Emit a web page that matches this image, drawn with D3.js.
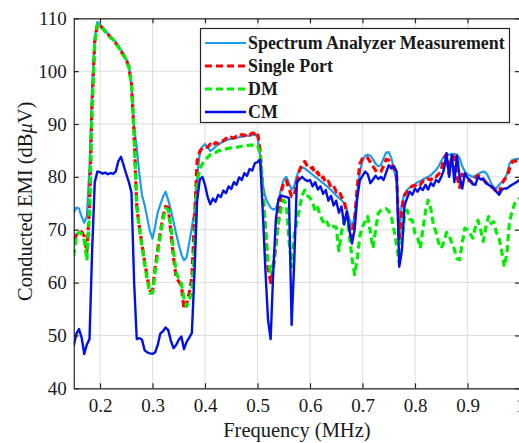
<!DOCTYPE html>
<html>
<head>
<meta charset="utf-8">
<script src="https://cdn.jsdelivr.net/npm/d3@7"></script>
<style>
  html, body { margin: 0; padding: 0; background: #fff; }
  svg { display: block; }
  svg text { font-family: "Liberation Serif", "Times New Roman", serif !important; fill: #1a1a1a; }
</style>
</head>
<body>
<svg id="chart" width="519" height="443"></svg>
<script>
// Frequency grid (MHz)
const freqMHz = [
  0.150,0.155,0.160,0.165,0.170,0.175,0.180,0.185,0.190,0.195,
  0.200,0.205,0.210,0.215,0.220,0.225,0.230,0.235,0.240,0.245,
  0.250,0.255,0.260,0.265,0.270,0.275,0.280,0.285,0.290,0.295,
  0.300,0.305,0.310,0.315,0.320,0.325,0.330,0.335,0.340,0.345,
  0.350,0.355,0.360,0.365,0.370,0.375,0.380,0.385,0.390,0.395,
  0.400,0.405,0.410,0.415,0.420,0.425,0.430,0.435,0.440,0.445,
  0.450,0.455,0.460,0.465,0.470,0.475,0.480,0.485,0.490,0.495,
  0.500,0.505,0.510,0.515,0.520,0.525,0.530,0.535,0.540,0.545,
  0.550,0.555,0.560,0.565,0.570,0.575,0.580,0.585,0.590,0.595,
  0.600,0.605,0.610,0.615,0.620,0.625,0.630,0.635,0.640,0.645,
  0.650,0.655,0.660,0.665,0.670,0.675,0.680,0.685,0.690,0.695,
  0.700,0.705,0.710,0.715,0.720,0.725,0.730,0.735,0.740,0.745,
  0.750,0.755,0.760,0.765,0.770,0.775,0.780,0.785,0.790,0.795,
  0.800,0.805,0.810,0.815,0.820,0.825,0.830,0.835,0.840,0.845,
  0.850,0.855,0.860,0.865,0.870,0.875,0.880,0.885,0.890,0.895,
  0.900,0.905,0.910,0.915,0.920,0.925,0.930,0.935,0.940,0.945,
  0.950,0.955,0.960,0.965,0.970,0.975,0.980,0.985,0.990,0.995,
  1.000
];

// Conducted EMI levels (dBuV) per series
const analyzer = [
  73.2, 74.2, 74.0, 72.5, 71.3, 72.5, 82.0, 97.0, 106.5, 109.3,
  108.8, 108.3, 107.7, 107.1, 106.6, 106.1, 105.5, 104.8, 104.0, 103.2,
  102.3, 101.2, 97.0, 89.5, 85.5, 80.5, 76.5, 74.7, 72.2, 69.8,
  68.3, 70.6, 73.3, 74.8, 76.2, 77.2, 75.6, 73.8, 71.5, 69.3,
  67.2, 65.3, 64.2, 64.8, 67.5, 70.5, 73.5, 80.0, 84.5, 85.7,
  86.2, 85.6, 84.9, 85.2, 85.7, 86.1, 86.4, 86.7, 86.9, 87.1,
  87.2, 87.3, 87.4, 87.5, 87.6, 87.7, 87.8, 87.8, 87.9, 88.0,
  87.6, 84.0, 78.5, 76.2, 75.0, 74.2, 73.8, 74.0, 75.5, 77.8,
  79.5, 80.0, 78.8, 77.6, 78.3, 80.2, 81.3, 81.8, 81.6, 81.2,
  80.8, 80.4, 80.0, 79.6, 79.2, 78.8, 78.4, 78.0, 77.5, 77.0,
  76.5, 76.0, 75.6, 75.0, 73.8, 72.0, 70.5, 72.5, 77.0, 81.0,
  83.0, 84.0, 84.2, 84.0, 83.3, 82.5, 82.0, 82.2, 83.5, 84.6,
  84.7, 83.5, 81.5, 79.0, 69.5, 75.0, 76.8, 77.5, 78.0, 78.3,
  78.6, 79.0, 79.2, 79.5, 79.8, 80.0, 80.3, 80.8, 81.3, 82.0,
  83.0, 83.8, 84.1, 84.2, 84.3, 84.3, 84.2, 83.5, 82.0, 81.0,
  80.5, 80.2, 80.0, 80.2, 80.5, 80.8, 81.0, 80.8, 80.0, 78.8,
  78.0, 77.8, 78.5, 79.0, 79.5, 80.5, 82.5, 83.2, 83.3, 83.4,
  83.5
];

const singlePort = [
  68.0, 69.0, 69.4, 69.6, 68.8, 65.8, 74.0, 94.0, 105.5, 108.8,
  108.6, 108.1, 107.5, 107.0, 106.4, 105.9, 105.3, 104.6, 103.8, 103.0,
  102.1, 100.8, 97.5, 88.0, 74.5, 70.5, 67.2, 64.0, 61.0, 58.5,
  58.3, 62.8, 66.3, 69.6, 72.5, 74.4, 74.2, 69.5, 64.7, 61.0,
  60.2, 59.5, 55.0, 56.0, 58.0, 61.0, 72.0, 83.0, 84.8, 85.5,
  85.7, 85.6, 86.2, 85.8, 86.5, 86.3, 86.9, 86.8, 87.3, 87.1,
  87.5, 87.3, 87.7, 87.6, 88.0, 87.8, 88.2, 87.9, 88.3, 88.2,
  88.5, 85.0, 78.0, 70.0, 63.0, 60.0, 62.5, 67.0, 71.5, 77.0,
  79.0, 79.3, 77.8, 76.3, 76.5, 79.0, 81.2, 82.5, 82.9, 82.0,
  81.5, 81.8, 80.5, 80.9, 79.6, 80.0, 78.9, 79.2, 78.0, 78.3,
  77.2, 77.4, 76.2, 75.5, 73.2, 70.5, 68.5, 72.0, 78.0, 82.5,
  83.5, 83.8, 83.6, 82.8, 82.0, 81.2, 80.8, 81.0, 82.0, 83.3,
  83.2, 82.5, 81.5, 80.2, 68.0, 74.0, 76.5, 77.2, 77.8, 78.3,
  78.3, 78.8, 78.5, 79.2, 79.0, 79.6, 79.4, 80.2, 80.0, 80.5,
  81.3, 83.5, 84.3, 80.5, 84.0, 83.8, 80.0, 78.0, 80.5, 79.8,
  79.5, 79.2, 78.8, 79.8, 80.3, 79.8, 79.5, 79.0, 78.5, 78.2,
  77.8, 77.2, 76.8, 78.5, 79.5, 80.0, 81.5, 82.8, 83.0, 83.0,
  83.2
];

const dm = [
  65.0, 68.8, 69.5, 69.2, 68.0, 64.2, 73.0, 93.0, 105.3, 108.8,
  108.6, 108.1, 107.5, 107.0, 106.4, 105.9, 105.3, 104.6, 103.8, 103.0,
  102.1, 100.8, 97.5, 88.0, 74.5, 70.2, 66.8, 63.5, 60.5, 58.0,
  58.0, 62.0, 65.5, 69.0, 72.0, 74.0, 73.8, 70.5, 66.0, 62.0,
  60.8, 59.8, 57.0, 55.5, 56.5, 58.5, 67.0, 79.0, 81.5, 82.5,
  83.2, 83.7, 84.2, 84.5, 84.6, 84.9, 85.0, 85.2, 85.3, 85.4,
  85.5, 85.6, 85.6, 85.7, 85.8, 85.8, 85.9, 86.0, 86.0, 86.0,
  86.0, 84.5, 78.0, 70.5, 64.0, 62.0, 63.5, 67.5, 71.5, 74.0,
  75.6, 74.8, 68.0, 63.0, 69.0, 71.5, 74.0, 76.5, 77.5, 76.5,
  76.0, 75.2, 73.5, 74.2, 72.5, 71.5, 72.0, 70.8, 71.2, 70.6,
  70.5, 66.0, 69.5, 71.8, 73.0, 69.0, 64.6, 61.5, 64.5, 68.8,
  70.6, 71.5, 72.5, 69.6, 66.5, 70.0, 73.1, 73.7, 74.0, 74.0,
  73.5, 72.5, 70.0, 67.0, 63.6, 68.0, 72.5, 73.7, 72.0, 71.8,
  69.3, 68.5, 66.5, 70.0, 73.5, 75.6, 74.0, 71.0, 69.5, 67.5,
  66.5, 67.7, 69.5, 69.0, 67.5, 66.3, 64.5, 64.3, 67.5, 70.3,
  70.0, 69.3, 68.4, 70.5, 71.8, 70.0, 67.8, 70.5, 72.5, 71.2,
  71.5, 69.5, 68.5, 66.0, 63.0, 65.5, 71.5, 73.5, 75.0, 75.5,
  76.0
];

const cm = [
  48.0, 50.3, 51.2, 49.6, 46.5, 48.3, 49.3, 66.0, 79.0, 81.0,
  80.9, 80.6, 80.8, 80.5, 80.7, 80.6, 81.0, 83.0, 83.8, 82.2,
  80.5, 79.0, 77.0, 60.0, 49.3, 49.5, 49.2, 47.2, 46.8, 46.6,
  46.5, 46.8, 48.2, 50.4, 50.8, 51.5, 51.0, 49.0, 47.6, 48.2,
  49.2, 49.8, 47.4, 48.8, 49.6, 50.5, 62.0, 75.5, 79.5, 80.0,
  78.5, 76.2, 74.8, 75.9, 75.3, 76.6, 76.2, 77.4, 76.9, 78.2,
  77.7, 79.0, 78.5, 79.9, 79.4, 80.7, 80.2, 81.5, 81.2, 82.6,
  82.8, 83.3, 73.5, 62.5, 53.0, 49.3, 62.0, 72.0, 75.8, 76.5,
  76.3, 76.2, 76.0, 52.0, 64.0, 79.0, 79.5, 80.0, 79.5, 79.2,
  79.4, 78.2, 79.0, 77.6, 78.2, 76.8, 77.5, 75.5, 76.4, 74.6,
  75.5, 73.2, 74.4, 71.0, 73.5, 70.0, 67.4, 70.0, 76.0, 79.4,
  80.2, 81.0, 80.5, 78.8, 79.5, 80.2, 79.6, 80.0, 79.4, 80.8,
  82.2, 81.6, 82.0, 81.0, 63.0, 66.0, 74.5, 76.0, 77.2, 76.6,
  77.8, 77.2, 78.0, 77.5, 78.5, 77.6, 78.8, 78.3, 79.4, 79.0,
  80.0, 81.3, 84.5, 80.0, 84.2, 79.0, 84.0, 80.0, 77.8, 80.7,
  79.8, 79.4, 78.6, 78.5, 80.0, 79.5, 79.7, 78.8, 78.5, 78.2,
  77.8, 77.2, 76.6, 77.5, 77.8, 77.8, 78.2, 78.5, 78.8, 79.1,
  79.5
];

const xTicks = [0.2, 0.3, 0.4, 0.5, 0.6, 0.7, 0.8, 0.9, 1];
const yTicks = [40, 50, 60, 70, 80, 90, 100, 110];
const seriesNames = ["Spectrum Analyzer Measurement", "Single Port", "DM", "CM"];

// Series styling, in draw order
const series = [
  { name: seriesNames[0], values: analyzer,   color: "#1f9bec", width: 2.2, dash: null },
  { name: seriesNames[1], values: singlePort, color: "#ff0000", width: 3.2, dash: "7,4" },
  { name: seriesNames[2], values: dm,         color: "#00ee00", width: 3.2, dash: "7,4" },
  { name: seriesNames[3], values: cm,         color: "#0010e8", width: 2.4, dash: null }
];

const serif = '"Liberation Serif", "Times New Roman", serif';
const svg = d3.select("#chart");
const plotLeft = 73.75, plotRight = 520, plotTop = 18.3, plotBottom = 388.3;

const x = d3.scaleLinear().domain([0.15, 1.0]).range([plotLeft, plotRight]);
const y = d3.scaleLinear().domain([40, 110]).range([plotBottom, plotTop]);

svg.append("defs").append("clipPath").attr("id", "plotClip")
  .append("rect").attr("x", plotLeft).attr("y", plotTop)
  .attr("width", plotRight - plotLeft).attr("height", plotBottom - plotTop);

// Grid
const grid = svg.append("g").attr("stroke", "#dedede").attr("stroke-width", 1);
grid.selectAll("line.gx").data(xTicks).join("line").attr("class", "gx")
  .attr("x1", d => x(d)).attr("x2", d => x(d))
  .attr("y1", plotTop).attr("y2", plotBottom);
grid.selectAll("line.gy").data(yTicks).join("line").attr("class", "gy")
  .attr("y1", d => y(d)).attr("y2", d => y(d))
  .attr("x1", plotLeft).attr("x2", plotRight);

// Curves
const plot = svg.append("g").attr("clip-path", "url(#plotClip)");
series.forEach(s => {
  const line = d3.line()
    .x((d, i) => x(freqMHz[i]))
    .y(d => y(d));
  plot.append("path")
    .datum(s.values)
    .attr("fill", "none")
    .attr("stroke", s.color)
    .attr("stroke-width", s.width)
    .attr("stroke-linejoin", "round")
    .attr("stroke-dasharray", s.dash)
    .attr("d", line);
});

// Axes (inward ticks on all four sides)
const tickLen = 5;
const axisColor = "#262626";
const axBottom = svg.append("g").attr("transform", `translate(0,${plotBottom})`)
  .call(d3.axisBottom(x).tickValues(xTicks).tickSizeInner(-tickLen).tickSizeOuter(0).tickPadding(10).tickFormat(d => String(d)));
const axTop = svg.append("g").attr("transform", `translate(0,${plotTop})`)
  .call(d3.axisTop(x).tickValues(xTicks).tickSizeInner(-tickLen).tickSizeOuter(0).tickFormat(""));
const axLeft = svg.append("g").attr("transform", `translate(${plotLeft},0)`)
  .call(d3.axisLeft(y).tickValues(yTicks).tickSizeInner(-tickLen).tickSizeOuter(0).tickPadding(7).tickFormat(d => String(d)));
const axRight = svg.append("g").attr("transform", `translate(${plotRight},0)`)
  .call(d3.axisRight(y).tickValues(yTicks).tickSizeInner(-tickLen).tickSizeOuter(0).tickFormat(""));

[axBottom, axTop, axLeft, axRight].forEach(a => {
  a.attr("font-family", null).attr("font-size", null);
  a.select(".domain").attr("stroke", axisColor).attr("stroke-width", 1.2);
  a.selectAll(".tick line").attr("stroke", axisColor).attr("stroke-width", 1.2);
  a.selectAll(".tick text")
    .style("font-family", serif)
    .style("font-size", "19px")
    .attr("fill", "#1a1a1a");
});

// Axis titles
svg.append("text")
  .attr("x", (plotLeft + plotRight) / 2).attr("y", 437)
  .attr("text-anchor", "middle")
  .style("font-family", serif).style("font-size", "20.5px")
  .text("Frequency (MHz)");

const yTitle = svg.append("text")
  .attr("transform", `translate(32,${(plotTop + plotBottom) / 2 - 2}) rotate(-90)`)
  .attr("text-anchor", "middle")
  .style("font-family", serif).style("font-size", "20.5px");
yTitle.append("tspan").text("Conducted EMI (dB");
yTitle.append("tspan").attr("font-style", "italic").text("\u03bc");
yTitle.append("tspan").text("V)");

// Legend
const lg = svg.append("g");
lg.append("rect")
  .attr("x", 200.5).attr("y", 28.5).attr("width", 309).attr("height", 94)
  .attr("fill", "#fff").attr("stroke", axisColor).attr("stroke-width", 1.2);
series.forEach((s, i) => {
  const yy = 43 + i * 23;
  lg.append("line")
    .attr("x1", 205).attr("x2", 246).attr("y1", yy).attr("y2", yy)
    .attr("stroke", s.color).attr("stroke-width", s.width)
    .attr("stroke-dasharray", s.dash);
  lg.append("text")
    .attr("x", 248).attr("y", yy).attr("dy", "0.34em")
    .style("font-family", serif).style("font-size", "17.9px").style("font-weight", "bold")
    .text(s.name);
});
</script>
</body>
</html>
